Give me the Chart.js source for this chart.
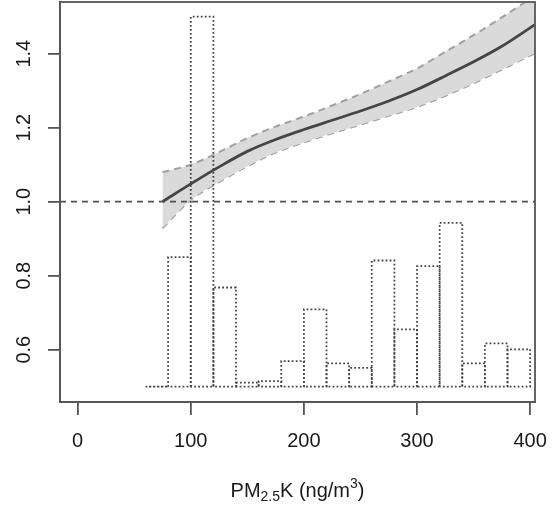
<!DOCTYPE html>
<html><head><meta charset="utf-8">
<script src="https://cdn.jsdelivr.net/npm/chart.js@4/dist/chart.umd.min.js"></script>
<style>html,body{margin:0;padding:0;background:#fff}#wrap{width:553px;height:507px}</style>
</head><body><div id="wrap"><canvas id="c" width="553" height="507"></canvas></div>
<script>
// ---- data ----
const curveX  = [75, 100, 125, 150, 175, 200, 225, 250, 275, 300, 325, 350, 375, 404];
const curveY  = [1.000, 1.048, 1.094, 1.136, 1.168, 1.195, 1.220, 1.245, 1.272, 1.303, 1.340, 1.378, 1.420, 1.478];
const upperY  = [1.080, 1.100, 1.134, 1.172, 1.203, 1.230, 1.260, 1.291, 1.325, 1.360, 1.405, 1.450, 1.498, 1.557];
const lowerY  = [0.928, 1.005, 1.053, 1.096, 1.133, 1.160, 1.185, 1.208, 1.232, 1.256, 1.286, 1.320, 1.357, 1.401];
const binEdges   = [60, 80, 100, 120, 140, 160, 180, 200, 220, 240, 260, 280, 300, 320, 340, 360, 380, 400];
const binHeights = [0.500, 0.850, 1.500, 0.768, 0.511, 0.515, 0.569, 0.709, 0.563, 0.551, 0.841, 0.655, 0.826, 0.943, 0.563, 0.617, 0.601];
const histBase = 0.5;
const refLineValue = 1.0;
const xTicks = [0, 100, 200, 300, 400];
const yTicks = [0.6, 0.8, 1.0, 1.2, 1.4];
const xRange = [-15.6, 404.3];
const yRange = [0.4586, 1.5397];
const xTitleParts = [["PM", 0], ["2.5", 1], ["K (ng/m", 0], ["3", -1], [")", 0]];

// ---- build datasets ----
const pts = (xs, ys) => xs.map((x, i) => ({x: x, y: ys[i]}));
const datasets = [];
binHeights.forEach((h, i) => {
  const x0 = binEdges[i], x1 = binEdges[i + 1];
  datasets.push({
    data: [{x: x0, y: histBase}, {x: x0, y: h}, {x: x1, y: h}, {x: x1, y: histBase}, {x: x0, y: histBase}],
    borderColor: '#444', borderWidth: 1.8, borderDash: [1.8, 2.2], pointRadius: 0, tension: 0, fill: false, order: 0
  });
});
datasets.push({data: pts(curveX, curveY), borderColor: '#454545', borderWidth: 2.8, pointRadius: 0,
  cubicInterpolationMode: 'monotone', fill: false, order: 1});
datasets.push({data: pts(curveX, upperY), borderColor: '#a0a0a0', borderWidth: 2, borderDash: [7, 5], pointRadius: 0,
  cubicInterpolationMode: 'monotone', fill: '+1', backgroundColor: '#dadada', order: 2});
datasets.push({data: pts(curveX, lowerY), borderColor: '#a0a0a0', borderWidth: 2, borderDash: [7, 5], pointRadius: 0,
  cubicInterpolationMode: 'monotone', fill: false, order: 3});

const FONT = '"Liberation Sans", Arial, Helvetica, sans-serif';
const AXC = '#555';
const TXC = '#1a1a1a';

const refLinePlugin = {
  id: 'refLine',
  afterDatasetsDraw(chart) {
    const {ctx, chartArea: a, scales: {y}} = chart;
    const py = y.getPixelForValue(refLineValue);
    ctx.save();
    ctx.strokeStyle = '#505050'; ctx.lineWidth = 1.8; ctx.setLineDash([6, 5]);
    ctx.beginPath(); ctx.moveTo(a.left, py); ctx.lineTo(a.right, py); ctx.stroke();
    ctx.restore();
  }
};
const boxPlugin = {
  id: 'box',
  afterDraw(chart) {
    const {ctx, chartArea: a} = chart;
    ctx.save();
    ctx.strokeStyle = AXC; ctx.lineWidth = 1.8;
    ctx.strokeRect(a.left, a.top, a.right - a.left, a.bottom - a.top);
    ctx.restore();
  }
};
const titlePlugin = {
  id: 'xtitle',
  afterDraw(chart) {
    const {ctx, chartArea: a} = chart;
    ctx.save();
    ctx.fillStyle = TXC;
    ctx.textBaseline = 'alphabetic';
    const big = '20px ' + FONT, small = '14px ' + FONT;
    let total = 0;
    xTitleParts.forEach(([t, s]) => { ctx.font = s ? small : big; total += ctx.measureText(t).width; });
    let x = (a.left + a.right) / 2 - total / 2;
    const base = 497;
    xTitleParts.forEach(([t, s]) => {
      ctx.font = s ? small : big;
      const dy = s === 1 ? 4 : (s === -1 ? -9 : 0);
      ctx.fillText(t, x, base + dy);
      x += ctx.measureText(t).width;
    });
    ctx.restore();
  }
};
const zeroPad = s => { s.paddingTop = 0; s.paddingBottom = 0; s.paddingLeft = 0; s.paddingRight = 0; };

new Chart(document.getElementById('c'), {
  type: 'line',
  data: {datasets: datasets},
  plugins: [refLinePlugin, boxPlugin, titlePlugin],
  options: {
    responsive: false, animation: false, devicePixelRatio: 1,
    layout: {padding: {top: 2, right: 18, left: 0, bottom: 0}},
    plugins: {legend: {display: false}, tooltip: {enabled: false}},
    scales: {
      x: {
        type: 'linear', min: xRange[0], max: xRange[1],
        afterBuildTicks: s => { s.ticks = xTicks.map(v => ({value: v})); },
        afterFit: s => { s.height = 105; zeroPad(s); },
        grid: {drawOnChartArea: false, drawTicks: true, tickLength: 13, color: AXC, lineWidth: 1.8},
        border: {display: true, color: AXC, width: 1.8},
        ticks: {color: TXC, font: {family: FONT, size: 20}, padding: 14, maxRotation: 0, minRotation: 0,
          callback: v => String(v)}
      },
      y: {
        type: 'linear', min: yRange[0], max: yRange[1],
        afterBuildTicks: s => { s.ticks = yTicks.map(v => ({value: v})); },
        afterFit: s => { s.width = 60; zeroPad(s); },
        grid: {drawOnChartArea: false, drawTicks: true, tickLength: 12, color: AXC, lineWidth: 1.8},
        border: {display: true, color: AXC, width: 1.8},
        ticks: {color: TXC, font: {family: FONT, size: 20}, padding: 10, minRotation: 90, maxRotation: 90,
          crossAlign: 'center', callback: v => Number(v).toFixed(1)}
      }
    }
  }
});
</script></body></html>
